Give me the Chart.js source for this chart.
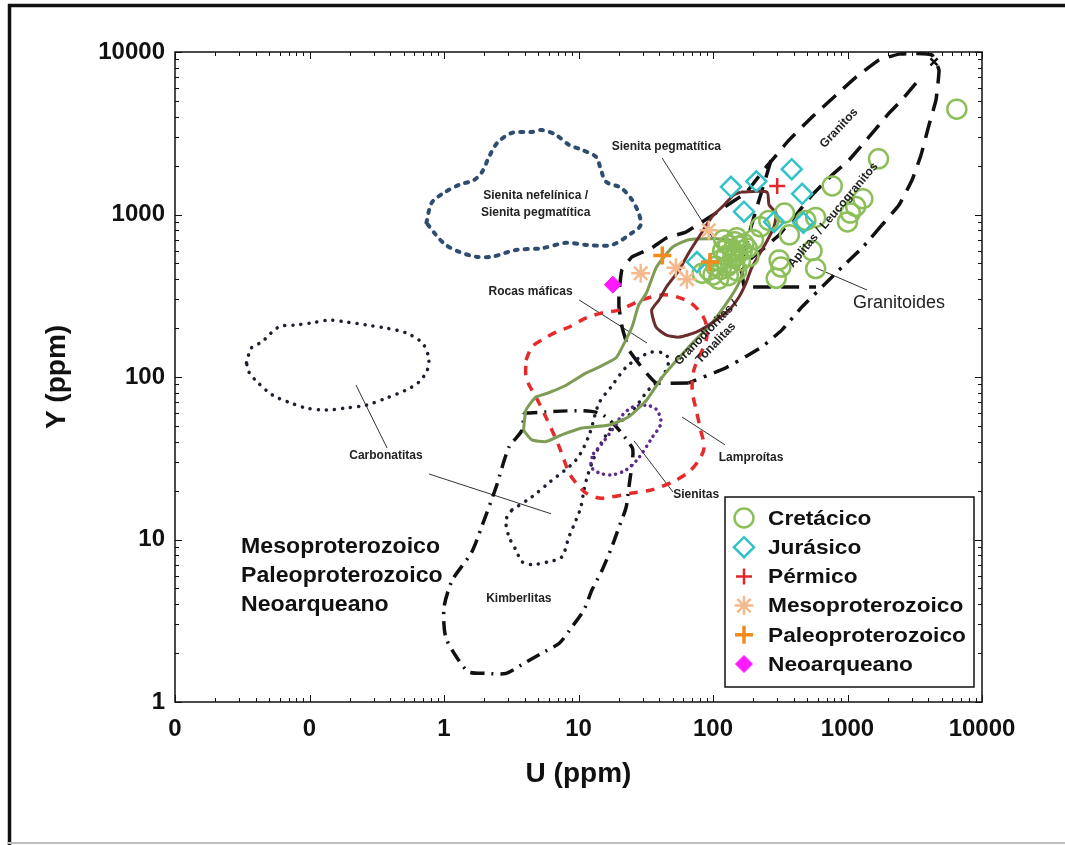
<!DOCTYPE html>
<html>
<head>
<meta charset="utf-8">
<script src="https://cdn.jsdelivr.net/npm/chart.js@4.4.1/dist/chart.umd.min.js"></script>
<style>
  html, body { margin: 0; padding: 0; background: #fff; }
  #wrap { width: 1065px; height: 845px; position: relative; }
</style>
</head>
<body>
<div id="wrap"><canvas id="chart"></canvas></div>
<script>
// axis ticks
const xTicks = [0.01, 0.1, 1, 10, 100, 1000, 10000];
const xTickLabels = ['0', '0', '1', '10', '100', '1000', '10000'];
const yTicks = [1, 10, 100, 1000, 10000];

// samples [U ppm, Y ppm]
const cretacico = [
  [6500, 4450], [1700, 2200], [770, 1500], [1300, 1250], [1150, 1120], [1050, 1020], [1000, 900],
  [580, 960], [490, 920], [340, 1020], [370, 750], [545, 600], [310, 525], [320, 475], [580, 465],
  [295, 405], [185, 550], [225, 840], [260, 920], [93, 455], [100, 425], [83, 435],
  [120, 700], [130, 650], [140, 600], [150, 560], [160, 520], [125, 560], [135, 500], [145, 680],
  [155, 640], [118, 600], [128, 480], [165, 600], [110, 520], [140, 540], [150, 720], [170, 660],
  [115, 460], [110, 400], [130, 420], [150, 450], [200, 700], [180, 620], [105, 480]
];
const jurasico = [[136, 1480], [210, 1600], [385, 1900], [460, 1340], [170, 1040], [285, 900], [470, 890], [76, 510]];
const permico = [[300, 1500]];
const mesoproterozoico = [[29, 435], [53, 470], [64, 400], [93, 800]];
const paleoproterozoico = [[42, 560], [95, 510]];
const neoarqueano = [[18, 370]];
const endMark = [[4400, 8700]];

// field outlines [U ppm, Y ppm]
const sienitaNefelinica = [
  [0.74, 890], [0.81, 1180], [1.0, 1360], [1.29, 1520], [1.67, 1630], [1.92, 1830], [2.16, 2260],
  [2.48, 2750], [3.2, 3180], [4.5, 3220], [5.35, 3310], [6.8, 3090], [8.5, 2680], [10.6, 2500],
  [13.5, 2260], [14.7, 1880], [16, 1590], [20.7, 1460], [25, 1230], [28, 1020], [29, 860], [25, 770],
  [17.7, 650], [11.4, 650], [8.1, 670], [5.35, 620], [3.43, 605], [2.27, 550], [1.73, 550],
  [1.29, 590], [1.03, 650], [0.87, 750]
];
const carbonatitasA = [
  [0.034, 122], [0.037, 151], [0.044, 164], [0.059, 203], [0.079, 209], [0.104, 215], [0.14, 224],
  [0.187, 218], [0.263, 209], [0.371, 200], [0.52, 187], [0.69, 162], [0.77, 131], [0.75, 110],
  [0.65, 93], [0.52, 83], [0.37, 74], [0.263, 67], [0.187, 64.5], [0.133, 62.6], [0.094, 64.5],
  [0.07, 70], [0.053, 77.5], [0.041, 93], [0.0355, 107]
];
const carbonatitasB = [
  [3.2, 15.2], [4.5, 18.3], [6.0, 22.3], [9.6, 30.9], [12, 44], [14.2, 69], [17.5, 87], [22.6, 115],
  [28.2, 131], [34.6, 142], [43, 140], [47, 127], [42, 100], [33, 83], [23.7, 58], [17.7, 49],
  [14.2, 37], [12.6, 29.6], [11.6, 24.2], [11, 20.2], [10.4, 15.8], [9.6, 13.2], [8.5, 10.4],
  [7.5, 7.8], [6.0, 7.3], [4.5, 7.0], [3.8, 7.3], [3.43, 8.6], [3.04, 10.4], [2.89, 13.2]
];
const sienitas = [
  [12.6, 32], [12.4, 28], [14.2, 25.7], [17.7, 25], [22.6, 26.8], [28.2, 32], [35, 42], [41, 52],
  [38, 63], [32, 67], [25, 65], [20.7, 57], [17.7, 47], [15, 39], [13, 34]
];
const lamproitas = [
  [4.07, 127], [4.5, 153], [5.35, 169], [6.8, 189], [8.5, 203], [11.4, 231], [15, 248], [20, 258],
  [29.6, 298], [42, 320], [54, 311], [68.6, 285], [83, 241], [90, 203], [89, 169], [79, 133],
  [72, 110], [70, 83], [75, 62.6], [81, 47], [86, 37], [79, 31], [66, 26], [50, 22.6], [35, 20.2],
  [25, 19.3], [17.7, 18.3], [14.2, 18], [11.4, 19.3], [9.6, 22.3], [8.5, 25.7], [7.8, 31],
  [7.2, 37], [6.35, 47], [5.7, 57], [5.1, 69], [4.5, 83], [4.07, 100]
];
const kimberlitas = [
  [3.9, 60], [14.2, 60], [25, 37], [25, 29.6], [23.7, 21], [22.6, 15.8], [20, 11.9], [17.7, 9],
  [15, 6.5], [12.6, 4.9], [11, 3.7], [8.95, 2.9], [7.2, 2.3], [5.35, 2.0], [3.8, 1.7], [2.9, 1.5],
  [2.05, 1.5], [1.53, 1.53], [1.29, 1.8], [1.03, 2.5], [1.0, 3.8], [1.15, 5.6], [1.6, 8.3],
  [1.9, 11.9], [2.44, 21], [3.04, 37], [3.8, 47]
];
const granodioritas = [
  [3.9, 47], [4.07, 62.6], [4.8, 75], [6.0, 80], [8.1, 89], [11.4, 106], [14.2, 115], [19, 131],
  [21, 151], [25, 203], [28, 277], [32, 329], [38, 475], [50, 630], [66, 700], [131, 700],
  [164, 580], [170, 475], [156, 380], [131, 298], [98, 215], [66, 153], [42, 100], [32, 72],
  [23.7, 57], [16.9, 50.6], [10.6, 48.5], [7.5, 44], [5.7, 40], [4.5, 41]
];
const sienitaPegmatitica = [
  [161, 1375], [252, 1375], [261, 1145], [294, 1020], [284, 840], [248, 670], [195, 475],
  [176, 380], [156, 311], [131, 258], [98, 215], [75, 189], [56, 176], [45, 181], [37.7, 203],
  [35, 258], [39.7, 298], [45, 358], [56, 455], [66, 580], [83, 780], [98, 966], [121, 1145],
  [143, 1320]
];
const granitoidesUpper = [
  [66, 92], [37.7, 92], [30.7, 110], [23.7, 147], [21.1, 203], [20, 270], [20, 329], [21, 455],
  [25, 548], [35, 622], [45, 717], [63, 780], [83, 900], [105, 1020], [136, 1180], [176, 1360],
  [209, 1630], [248, 1960], [275, 2160], [367, 2870], [545, 3980], [794, 5290], [1157, 7000],
  [1715, 8930], [2415, 9700], [3120, 9800], [4250, 9590], [4790, 7750], [4550, 5070],
  [4035, 3555], [3520, 2320], [3020, 1630], [2415, 1144], [1805, 862]
];
const granitoidesLower = [
  [1805, 862], [1282, 622], [864, 455], [728, 395], [459, 270], [326, 195], [231, 153], [125, 114], [66, 92]
];
const granitosDivide = [
  [3230, 6440], [2540, 5070], [2040, 4215], [1445, 3000], [1026, 2160], [767, 1750], [545, 1320],
  [414, 993], [310, 748], [231, 605], [185, 525], [161, 436]
];
const aplitasEdge = [[270, 2160], [248, 1700], [212, 1110], [192, 840], [176, 630], [164, 436], [170, 358], [583, 358]];

// label pointers
const leaderLines = [
  [[41.8, 2230], [117, 580]],
  [[10.1, 298], [32.3, 162]],
  [[0.222, 89], [0.377, 36.6]],
  [[0.774, 25.3], [6.25, 14.4]],
  [[25.9, 40.4], [50.4, 19.6]],
  [[58.9, 56.7], [123, 38.2]],
  [[583, 469], [1397, 343]]
];

const fieldLabels = [
  { text: 'Sienita nefelínica /', at: [4.8, 1300] },
  { text: 'Sienita pegmatítica', at: [4.8, 1020] },
  { text: 'Sienita pegmatítica', at: [45, 2600] },
  { text: 'Rocas máficas', at: [4.4, 334] },
  { text: 'Carbonatitas', at: [0.37, 32.6] },
  { text: 'Kimberlitas', at: [3.6, 4.3] },
  { text: 'Sienitas', at: [75, 18.8] },
  { text: 'Lamproítas', at: [192, 31.7] },
  { text: 'Granitos', at: [864, 3400], angle: -47 },
  { text: 'Aplitas / Leucogranitos', at: [780, 993], angle: -50 },
  { text: 'Granodioritas /', at: [89, 187], angle: -46 },
  { text: 'Tonalitas', at: [105, 162], angle: -46 }
];
const ageLines = ['Mesoproterozoico', 'Paleoproterozoico', 'Neoarqueano'];
const ageLineY = [9, 5.96, 3.95];
const ageLineX = 0.031;

const FONT = "'Liberation Sans', Arial, sans-serif";
const toPts = arr => arr.map(([x, y]) => ({ x, y }));
const closed = arr => arr.concat([arr[0]]);

const markerSets = [
  { label: 'Neoarqueano', data: neoarqueano, style: 'rectRot', color: '#ff1aff', r: 8.5, w: 1, filled: true },
  { label: 'Paleoproterozoico', data: paleoproterozoico, style: 'cross', color: '#f28a1e', r: 9, w: 3.5 },
  { label: 'Pérmico', data: permico, style: 'cross', color: '#e3262b', r: 8, w: 2.5 },
  { label: 'Mesoproterozoico', data: mesoproterozoico, style: 'star', color: '#f4b98c', r: 9.5, w: 2.5 },
  { label: 'Jurásico', data: jurasico, style: 'rectRot', color: '#33c2c8', r: 10, w: 2.5 },
  { label: 'Cretácico', data: cretacico, style: 'circle', color: '#8cbf5a', r: 9.5, w: 2.5 }
];
const legendOrder = ['Cretácico', 'Jurásico', 'Pérmico', 'Mesoproterozoico', 'Paleoproterozoico', 'Neoarqueano'];

function markerDataset(m) {
  return {
    label: m.label,
    data: toPts(m.data),
    showLine: false,
    pointStyle: m.style,
    pointRadius: m.r,
    pointBorderWidth: m.w,
    pointBorderColor: m.color,
    pointBackgroundColor: m.filled ? m.color : 'rgba(0,0,0,0)'
  };
}

function outline(label, pts, color, width, dash, opts = {}) {
  return Object.assign({
    label,
    data: toPts(pts),
    showLine: true,
    pointRadius: 0,
    borderColor: color,
    borderWidth: width,
    borderDash: dash,
    borderCapStyle: 'butt',
    tension: 0,
    fill: false
  }, opts);
}

const datasets = markerSets.map(markerDataset);
datasets.push({
  label: 'x', data: toPts(endMark), showLine: false, pointStyle: 'crossRot',
  pointRadius: 5, pointBorderWidth: 2.5, pointBorderColor: '#111'
});
datasets.push(
  outline('Sienita pegmatítica', closed(sienitaPegmatitica), '#6b2c2c', 3, [], { tension: 0.2 }),
  outline('Granodioritas', closed(granodioritas), '#7f9c54', 3, [], { tension: 0.15 }),
  outline('Sienitas', closed(sienitas), '#5c2a88', 3.5, [0.1, 6], { borderCapStyle: 'round', tension: 0.3 }),
  outline('Lamproítas', closed(lamproitas), '#e62a2a', 3.5, [9, 8], { tension: 0.3 }),
  outline('Carbonatitas B', closed(carbonatitasB), '#1c1f2e', 3.5, [0.1, 8], { borderCapStyle: 'round', tension: 0.3 }),
  outline('Carbonatitas A', closed(carbonatitasA), '#1c1f2e', 3.5, [0.1, 8], { borderCapStyle: 'round', tension: 0.3 }),
  outline('Sienita nefelínica', closed(sienitaNefelinica), '#2f4d70', 4, [3, 7], { borderCapStyle: 'round', tension: 0.3 }),
  outline('Kimberlitas', closed(kimberlitas), '#111', 3.5, [14, 7, 2, 7], { tension: 0.25 }),
  outline('Granitoides', granitoidesUpper, '#111', 3.5, [18, 10], { tension: 0.1 }),
  outline('Granitoides inf', granitoidesLower, '#111', 3.5, [16, 8, 3, 8], { tension: 0.1 }),
  outline('Granitos', granitosDivide, '#111', 3.5, [18, 10]),
  outline('Aplitas', aplitasEdge, '#111', 3.5, [18, 10])
);
leaderLines.forEach((seg, i) => datasets.push(outline('guia' + i, seg, '#333', 1, [])));

// text drawn slightly widened, like the original figure lettering
function wideText(ctx, text, px, py, sx) {
  ctx.save();
  ctx.translate(px, py);
  ctx.scale(sx, 1);
  ctx.fillText(text, 0, 0);
  ctx.restore();
}

// frame, inward ticks, text labels and legend box
const decorPlugin = {
  id: 'decor',
  beforeDraw(chart) {
    const { ctx, width, height } = chart;
    ctx.save();
    ctx.fillStyle = '#fff';
    ctx.fillRect(0, 0, width, height);
    ctx.strokeStyle = '#111';
    ctx.lineWidth = 3.5;
    ctx.beginPath();
    ctx.moveTo(9.5, height);
    ctx.lineTo(9.5, 5.5);
    ctx.lineTo(width, 5.5);
    ctx.stroke();
    ctx.strokeStyle = '#bdbdbd';
    ctx.lineWidth = 2;
    ctx.beginPath();
    ctx.moveTo(8, height - 2);
    ctx.lineTo(width, height - 2);
    ctx.stroke();
    ctx.restore();
  },
  afterDraw(chart) {
    const { ctx, chartArea: a, scales: { x, y } } = chart;
    ctx.save();

    // plot frame with minor ticks on all sides
    ctx.strokeStyle = '#111';
    ctx.lineWidth = 1.5;
    ctx.strokeRect(a.left, a.top, a.right - a.left, a.bottom - a.top);
    ctx.lineWidth = 1;
    ctx.beginPath();
    for (let d = -2; d <= 4; d++) {
      for (let m = 1; m < 10; m++) {
        const v = m * Math.pow(10, d);
        if (v > 10000) break;
        const len = m === 1 ? 7 : 4;
        const px = Math.round(x.getPixelForValue(v)) + 0.5;
        ctx.moveTo(px, a.bottom); ctx.lineTo(px, a.bottom - len);
        ctx.moveTo(px, a.top); ctx.lineTo(px, a.top + len);
        if (v >= 1) {
          const py = Math.round(y.getPixelForValue(v)) + 0.5;
          ctx.moveTo(a.left, py); ctx.lineTo(a.left + len, py);
          ctx.moveTo(a.right, py); ctx.lineTo(a.right - len, py);
        }
      }
    }
    ctx.stroke();

    // field names
    ctx.fillStyle = '#222';
    ctx.textAlign = 'center';
    ctx.textBaseline = 'middle';
    ctx.font = 'bold 12px ' + FONT;
    fieldLabels.forEach(l => {
      const px = x.getPixelForValue(l.at[0]);
      const py = y.getPixelForValue(l.at[1]);
      ctx.save();
      ctx.translate(px, py);
      if (l.angle) ctx.rotate(l.angle * Math.PI / 180);
      ctx.fillText(l.text, 0, 0);
      ctx.restore();
    });
    ctx.font = '18px ' + FONT;
    ctx.fillText('Granitoides', x.getPixelForValue(2415), y.getPixelForValue(285));

    ctx.textAlign = 'left';
    ctx.fillStyle = '#111';
    ctx.font = 'bold 22px ' + FONT;
    ageLines.forEach((t, i) => {
      wideText(ctx, t, x.getPixelForValue(ageLineX), y.getPixelForValue(ageLineY[i]), 1.05);
    });

    // legend
    const box = { left: 725, top: 497, w: 249, h: 190, row0: 518, rowH: 29.2, mx: 744, tx: 768 };
    ctx.fillStyle = '#fff';
    ctx.fillRect(box.left, box.top, box.w, box.h);
    ctx.strokeStyle = '#111';
    ctx.lineWidth = 1.5;
    ctx.strokeRect(box.left, box.top, box.w, box.h);
    legendOrder.forEach((name, i) => {
      const m = markerSets.find(s => s.label === name);
      const cy = box.row0 + i * box.rowH;
      ctx.strokeStyle = m.color;
      ctx.fillStyle = m.filled ? m.color : 'rgba(0,0,0,0)';
      ctx.lineWidth = m.w;
      Chart.helpers.drawPoint(ctx, { pointStyle: m.style, radius: m.r, rotation: 0, borderWidth: m.w }, box.mx, cy);
      ctx.fillStyle = '#111';
      ctx.font = 'bold 21px ' + FONT;
      wideText(ctx, name, box.tx, cy + 1, 1.08);
    });
    ctx.restore();
  }
};

new Chart(document.getElementById('chart'), {
  type: 'scatter',
  data: { datasets },
  options: {
    responsive: true,
    maintainAspectRatio: false,
    animation: false,
    events: [],
    layout: { padding: { top: 52, right: 83, bottom: 0, left: 0 } },
    plugins: { legend: { display: false }, tooltip: { enabled: false } },
    scales: {
      x: {
        type: 'logarithmic',
        min: 0.01,
        max: 10000,
        grid: { display: false, drawTicks: false },
        border: { display: false },
        afterBuildTicks: s => { s.ticks = xTicks.map(v => ({ value: v })); },
        afterFit: s => { s.height = 143; },
        ticks: {
          autoSkip: false, maxRotation: 0, minRotation: 0, padding: 13,
          color: '#111', font: { family: FONT, size: 24, weight: 'bold' },
          callback: v => xTickLabels[xTicks.indexOf(v)] ?? ''
        },
        title: {
          display: true, text: 'U (ppm)', color: '#111',
          font: { family: FONT, size: 28, weight: 'bold' },
          padding: { top: 0, bottom: 54 }
        }
      },
      y: {
        type: 'logarithmic',
        min: 1,
        max: 10000,
        grid: { display: false, drawTicks: false },
        border: { display: false },
        afterBuildTicks: s => { s.ticks = yTicks.map(v => ({ value: v })); },
        afterFit: s => { s.width = 175; },
        ticks: {
          autoSkip: false, padding: 10,
          color: '#111', font: { family: FONT, size: 24, weight: 'bold' },
          callback: v => String(v)
        },
        title: {
          display: true, text: 'Y (ppm)', color: '#111',
          font: { family: FONT, size: 28, weight: 'bold' },
          padding: { top: 40, bottom: 0 }
        }
      }
    }
  },
  plugins: [decorPlugin]
});
</script>
</body>
</html>
